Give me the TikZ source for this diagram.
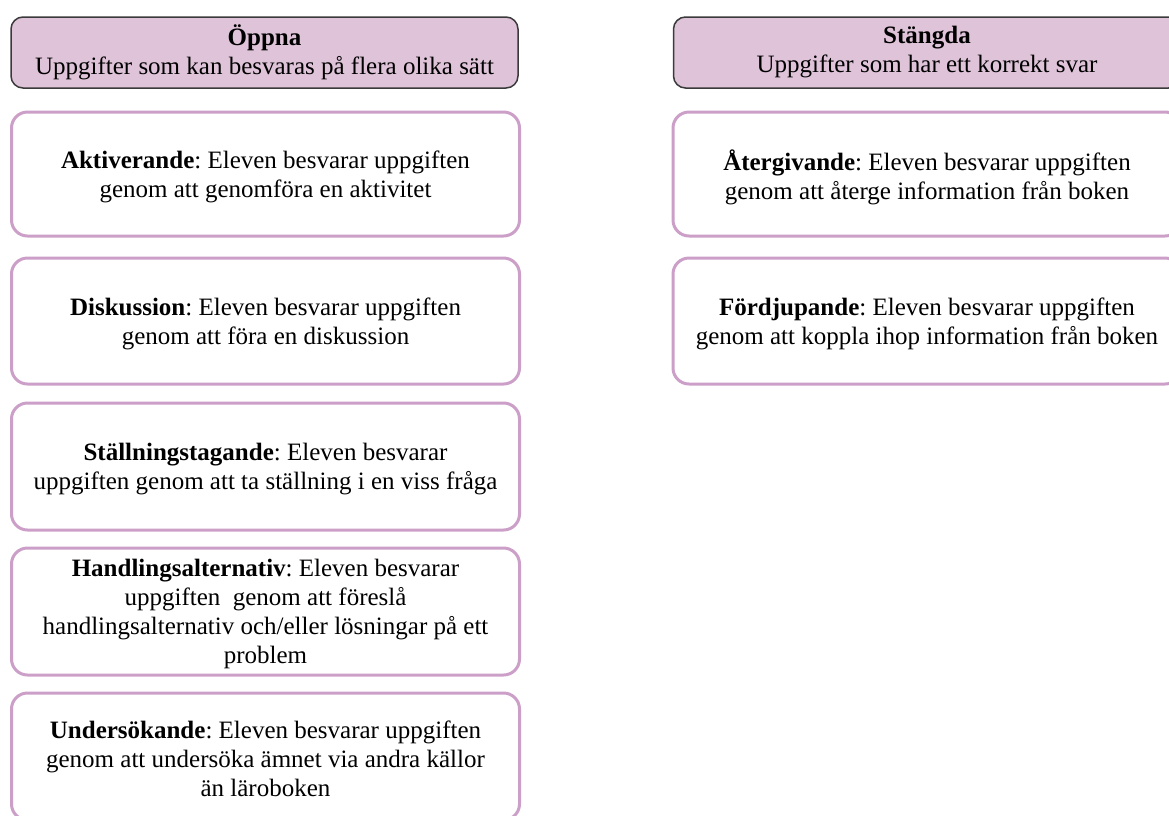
\documentclass[tikz,border=0pt]{standalone}
\usepackage{fontspec}
\setmainfont{Liberation Serif}
\frenchspacing
\definecolor{hdrfill}{HTML}{DFC3D9}
\definecolor{hdrline}{HTML}{3A3A3A}
\definecolor{boxline}{HTML}{CC9FC8}
\begin{document}
\begin{tikzpicture}[x=1pt,y=-1pt,
  hdrbox/.style={draw=hdrline, line width=1.5pt, fill=hdrfill, rounded corners=12pt,
    minimum width=507pt, minimum height=71pt, inner sep=0pt},
  catbox/.style={draw=boxline, line width=3pt, fill=white, rounded corners=16pt,
    minimum width=508pt, inner sep=0pt},
  txt/.style={align=center, inner sep=0pt, font=\fontsize{25}{29}\selectfont}]
\useasboundingbox (0,0) rectangle (1169,815);
% headers
\node[hdrbox] (hL) at (264.5,52.5) {};
\node[hdrbox] (hR) at (927,52.5) {};
\node[txt] (hLt) at (264.5,52.5) {\textbf{Öppna}\\Uppgifter som kan besvaras på flera olika sätt};
\node[txt] (hRt) at (927,52.5) {\textbf{Stängda}\\Uppgifter som har ett korrekt svar};
% left column
\node[catbox, minimum height=124pt] (b1) at (265.5,174) {};
\node[catbox, minimum height=126pt] (b2) at (265.5,321) {};
\node[catbox, minimum height=127pt] (b3) at (265.5,466.5) {};
\node[catbox, minimum height=127pt] (b4) at (265.5,611.5) {};
\node[catbox, minimum height=127pt] (b5) at (265.5,756.5) {};
\node[txt] (t1) at (265.5,177) {\textbf{Aktiverande}: Eleven besvarar uppgiften\\genom att genomföra en aktivitet};
\node[txt] (t2) at (265.5,324) {\textbf{Diskussion}: Eleven besvarar uppgiften\\genom att föra en diskussion};
\node[txt] (t3) at (265.5,469.5) {\textbf{Ställningstagande}: Eleven besvarar\\uppgiften genom att ta ställning i en viss fråga};
\node[txt] (t4) at (265.5,614) {\textbf{Handlingsalternativ}: Eleven besvarar\\uppgiften\ \ genom att föreslå\\handlingsalternativ och/eller lösningar på ett\\problem};
\node[txt] (t5) at (265.5,758.5) {\textbf{Undersökande}: Eleven besvarar uppgiften\\genom att undersöka ämnet via andra källor\\än läroboken};
% right column
\node[catbox, minimum height=124pt] (r1) at (927,174) {};
\node[catbox, minimum height=126pt] (r2) at (927,321) {};
\node[txt] (rt1) at (927,177) {\textbf{Återgivande}: Eleven besvarar uppgiften\\genom att återge information från boken};
\node[txt] (rt2) at (927,324) {\textbf{Fördjupande}: Eleven besvarar uppgiften\\genom att koppla ihop information från boken};
\end{tikzpicture}
\end{document}
